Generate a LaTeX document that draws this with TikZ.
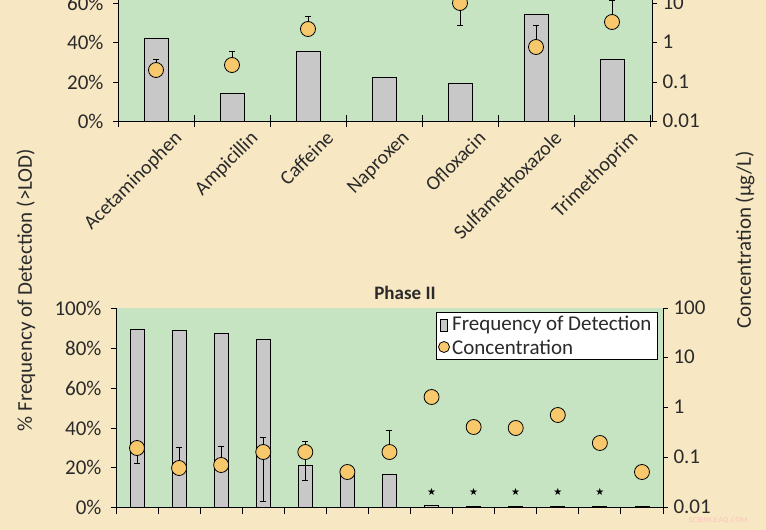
\documentclass[tikz,border=0pt]{standalone}
\usepackage{fontspec}
\setmainfont{Carlito}
\newfontfamily\djv{DejaVu Sans}
\definecolor{bgc}{HTML}{F7E8C3}
\definecolor{plotg}{HTML}{C6E4C2}
\definecolor{barg}{HTML}{C8C8C8}
\definecolor{circ}{HTML}{F8C96C}
\definecolor{txt}{HTML}{2A2A2A}
\tikzset{
 bar/.style={draw=black,fill=barg,line width=0.9pt},
 dot/.style={circle,draw=black,fill=circ,line width=0.8pt,minimum size=15pt,inner sep=0pt},
 err/.style={draw=black,line width=0.8pt},
 axl/.style={draw=black,line width=1pt},
 tl/.style={text=txt,font=\fontsize{21}{21}\selectfont},
 cat/.style={text=txt,font=\fontsize{20}{20}\selectfont,rotate=45,anchor=north east,inner sep=1pt},
}
\begin{document}
\begin{tikzpicture}[x=1pt,y=-1pt]
\fill[bgc] (0,0) rectangle (766,530);
\useasboundingbox (0,0) rectangle (766,530);
% ---------- top chart
\fill[plotg] (118,0) rectangle (652,121);
\foreach \c/\h in {0/42,1/14,2/35,3/22,4/19,5/54,6/31}{
  \draw[bar] ({118+76*\c+26},121) rectangle ({118+76*\c+50},{121-1.975*\h});
}
\foreach \c/\a/\b in {0/70/59,1/65/51,2/29/16,4/3/25,5/47/25,6/22/0}{
  \draw[err] ({118+76*\c+38},\a) -- ({118+76*\c+38},\b);
  \draw[err] ({118+76*\c+35},\b) -- ({118+76*\c+41},\b);
}
\foreach \c/\a in {0/70,1/65,2/29,4/3,5/47,6/22}{
  \node[dot] (t\c) at ({118+76*\c+38},\a) {};
}
\draw[axl] (118,0) -- (118,121) -- (652,121) -- (652,0);
\foreach \c in {0,...,7}{\draw[axl] ({118+76*\c},115) -- ({118+76*\c},127);}
\foreach \y/\l in {3/60\%,42/40\%,82/20\%,121/0\%}{
  \draw[axl] (113,\y) -- (118,\y);
  \node[tl,anchor=east] at (107,\y) {\l};}
\foreach \y/\l in {3/10,42/1,82/0.1,121/0.01}{
  \draw[axl] (652,\y) -- (657,\y);
  \node[tl,anchor=west] at (659,\y) {\l};}
\foreach \c/\n in {0/Acetaminophen,1/Ampicillin,2/Caffeine,3/Naproxen,4/Ofloxacin,5/Sulfamethoxazole,6/Trimethoprim}{
  \node[cat] at ({118+76*\c+55},128) {\n};}
% ---------- axis titles
\node[tl,rotate=90] at (26,290) {\% Frequency of Detection (>LOD)};
\node[tl,rotate=90] at (745,240) {Concentration (µg/L)};
% ---------- bottom chart
\node[tl,font=\bfseries\fontsize{19}{19}\selectfont] at (405,293) {Phase II};
\fill[plotg] (116,308) rectangle (663,507);
\foreach \c/\h in {0/89,1/88.5,2/87,3/84,4/21,5/16,6/16.5,7/1,8/0.5,9/0.5,10/0.5,11/0.5,12/0.5}{
  \draw[bar] ({116+42.08*\c+14},507) rectangle ({116+42.08*\c+28},{507-1.99*\h});
}
\foreach \c/\a/\b in {0/448/463,1/468/447,2/465/446,3/437/501,4/441/480,6/452/430}{
  \draw[err] ({116+42.08*\c+21},\a) -- ({116+42.08*\c+21},\b);
  \draw[err] ({116+42.08*\c+18},\b) -- ({116+42.08*\c+24},\b);
}
\draw[err] ({116+42.08*4+18},441) -- ({116+42.08*4+24},441);
\draw[err] ({116+42.08*3+18},437) -- ({116+42.08*3+24},437);
\foreach \c/\a in {0/448,1/468,2/465,3/452,4/452,5/472,6/452,7/397,8/427,9/428,10/415,11/443,12/472}{
  \node[dot] (b\c) at ({116+42.08*\c+21},\a) {};
}
\foreach \c in {7,...,11}{
  \node[font=\djv\fontsize{10}{10}\selectfont,inner sep=0pt] (s\c) at ({116+42.08*\c+21},492) {★};
}
\draw[axl] (116,308) -- (116,507) -- (663,507) -- (663,308);
\foreach \c in {0,...,13}{\draw[axl] ({116+42.08*\c},507) -- ({116+42.08*\c},514);}
\foreach \y/\l in {308/100\%,348/80\%,388/60\%,428/40\%,467/20\%,507/0\%}{
  \draw[axl] (111,\y) -- (116,\y);
  \node[tl,anchor=east] at (105,\y) {\l};}
\foreach \y/\l in {308/100,357/10,407/1,457/0.1,507/0.01}{
  \draw[axl] (663,\y) -- (668,\y);
  \node[tl,anchor=west] at (670,\y) {\l};}
% legend
\draw[fill=white,draw=black,line width=0.6pt] (436,312) rectangle (657,359);
\draw[bar,line width=0.6pt] (440,319) rectangle (447,331);
\node[tl,anchor=west,inner sep=0pt] (lf) at (452,325) {Frequency of Detection};
\node[dot,minimum size=11pt] (lc) at (444,347) {};
\node[tl,anchor=west,inner sep=0pt] at (452,347) {Concentration};
\node[text=red!25,font=\sffamily\fontsize{7}{7}\selectfont] at (718,520) {SCIENCEAQ.COM};
\end{tikzpicture}
\end{document}
